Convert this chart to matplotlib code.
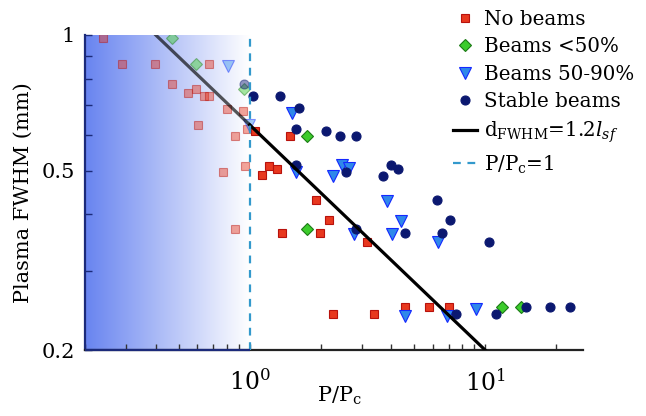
import numpy as np
import matplotlib
matplotlib.use("Agg")
import matplotlib.pyplot as plt

plt.rcParams['font.family'] = 'DejaVu Serif'
plt.rcParams['mathtext.fontset'] = 'dejavuserif'

# ---- data (P/Pc, FWHM in mm) ----
nobeam_x = [0.238, 0.288, 0.398, 0.669, 0.467, 0.548, 0.591, 0.637, 0.669, 0.80,
            0.934, 0.603, 0.866, 0.971, 0.770, 0.955, 0.866,
            1.05, 1.48, 1.128, 1.208, 1.303, 1.915, 2.162, 1.378, 1.991, 3.138,
            2.262, 3.38, 4.55, 5.78, 7.03]
nobeam_y = [0.983, 0.861, 0.861, 0.861, 0.777, 0.744, 0.757, 0.733, 0.733, 0.686,
            0.679, 0.630, 0.596, 0.620, 0.497, 0.513, 0.372,
            0.613, 0.596, 0.488, 0.513, 0.505, 0.431, 0.388, 0.364, 0.364, 0.348,
            0.241, 0.241, 0.249, 0.249, 0.249]

low_x = [0.467, 0.591, 0.949, 1.748, 1.748, 11.78, 14.19]
low_y = [0.983, 0.861, 0.757, 0.596, 0.372, 0.249, 0.249]

mid_x = [0.809, 0.99, 1.516, 1.578, 2.456, 2.646, 2.262, 3.84, 4.38, 2.778, 4.03,
         6.33, 4.57, 6.89, 9.16]
mid_y = [0.855, 0.631, 0.673, 0.496, 0.514, 0.506, 0.486, 0.428, 0.387, 0.362, 0.362,
         0.347, 0.2385, 0.2385, 0.247]

stable_x = [0.949, 1.035, 1.35, 1.612, 1.578, 2.116, 2.408, 2.818, 1.57, 2.554,
            3.97, 4.28, 3.69, 6.23, 7.1, 2.825, 4.57, 6.58, 10.33,
            7.5, 11.14, 14.93, 18.9, 23.0]
stable_y = [0.777, 0.734, 0.734, 0.687, 0.620, 0.612, 0.596, 0.596, 0.514, 0.496,
            0.514, 0.504, 0.487, 0.43, 0.388, 0.372, 0.364, 0.364, 0.348,
            0.241, 0.240, 0.249, 0.249, 0.249]

# fit d_FWHM = 1.2 l_sf  (power law, slope -1/2)
fit_x = np.array([0.4, 1.0, 10.0])
fit_y = 0.632 * fit_x ** -0.5

xlim = (0.2, 26)
ylim = (0.2, 1.0)

fig = plt.figure(figsize=(6.46, 4.16), dpi=100)
ax = fig.add_axes([85/646, 66/416, 498/646, 315/416])
ax.set_xscale('log')
ax.set_yscale('log')
ax.set_xlim(*xlim)
ax.set_ylim(*ylim)

# blue gradient for P/Pc < 1
frac = (np.log10(1.0) - np.log10(xlim[0])) / (np.log10(xlim[1]) - np.log10(xlim[0]))
t = np.linspace(0, 1, 256)
left_c = np.array([104, 132, 240]) / 255
grad = (left_c[None, :] * (1 - t[:, None]) + np.ones(3)[None, :] * t[:, None])[None, :, :]
ax.imshow(grad, extent=(0, frac, 0, 1), transform=ax.transAxes, aspect='auto', zorder=0)


def draw(x, y, marker, ms, face, edge):
    x = np.array(x)
    y = np.array(y)
    lo = x < 1
    ax.plot(x[lo], y[lo], ls='none', marker=marker, ms=ms, mfc=face, mec=edge,
            mew=0.8, alpha=0.45, zorder=3)
    h, = ax.plot(x[~lo], y[~lo], ls='none', marker=marker, ms=ms, mfc=face, mec=edge,
                 mew=0.8, zorder=3)
    return h


h1 = draw(nobeam_x, nobeam_y, 's', 6, '#e8381e', '#b8120c')
h2 = draw(low_x, low_y, 'D', 6, '#3ccc2c', '#1c7a16')
h3 = draw(mid_x, mid_y, 'v', 8.5, '#2f88ea', '#1428ff')
h4 = draw(stable_x, stable_y, 'o', 6.5, '#0b1870', '#0b1870')

ax.plot(fit_x[:2], fit_y[:2], color='black', lw=2.3, alpha=0.65, zorder=4)
h5, = ax.plot(fit_x[1:], fit_y[1:], color='black', lw=2.3, zorder=4)
h6 = ax.axvline(1.0, color='#3399cc', lw=1.6, dashes=(3.5, 3), zorder=5)

# spines
for s in ['top', 'right']:
    ax.spines[s].set_visible(False)
ax.spines['left'].set_color('#1b2a7a')
ax.spines['left'].set_linewidth(1.6)
ax.spines['bottom'].set_color('#222222')
ax.spines['bottom'].set_linewidth(1.6)
ax.plot([xlim[0], 1.0], [ylim[0], ylim[0]], color='#1b2a7a', lw=1.6,
        clip_on=False, zorder=6, solid_capstyle='butt')

ax.set_yticks([0.2, 0.5, 1.0])
ax.set_yticklabels(['0.2', '0.5', '1'])
ax.set_yticks([0.3, 0.4, 0.6, 0.7, 0.8, 0.9], minor=True)
ax.yaxis.set_minor_formatter(plt.NullFormatter())
ax.tick_params(which='both', direction='in', labelsize=15, width=1, color='#333333')
ax.tick_params(axis='y', which='both', length=5, pad=7, color='#1b2a7a')
ax.tick_params(axis='x', which='both', length=4, pad=14, labelsize=17)

ax.set_xlabel('P/P$_\\mathregular{c}$', fontsize=15)
ax.xaxis.set_label_coords(0.51, -0.11)
ax.set_ylabel('Plasma FWHM (mm)', fontsize=15)
ax.yaxis.set_label_coords(-0.104, 0.5)

labels = ['No beams', 'Beams <50%', 'Beams 50-90%', 'Stable beams',
          'd$_\\mathregular{FWHM}$=1.2$\\mathit{l}_{\\mathit{sf}}$',
          'P/P$_\\mathregular{c}$=1']
fig.legend([h1, h2, h3, h4, h5, h6], labels, loc='upper left',
           bbox_to_anchor=(453/646, 1 - 10/416), frameon=False, fontsize=14.3,
           handlelength=1.2, handletextpad=0.35, labelspacing=0.42,
           borderpad=0, borderaxespad=0)

fig.savefig('out.png', dpi=100)
